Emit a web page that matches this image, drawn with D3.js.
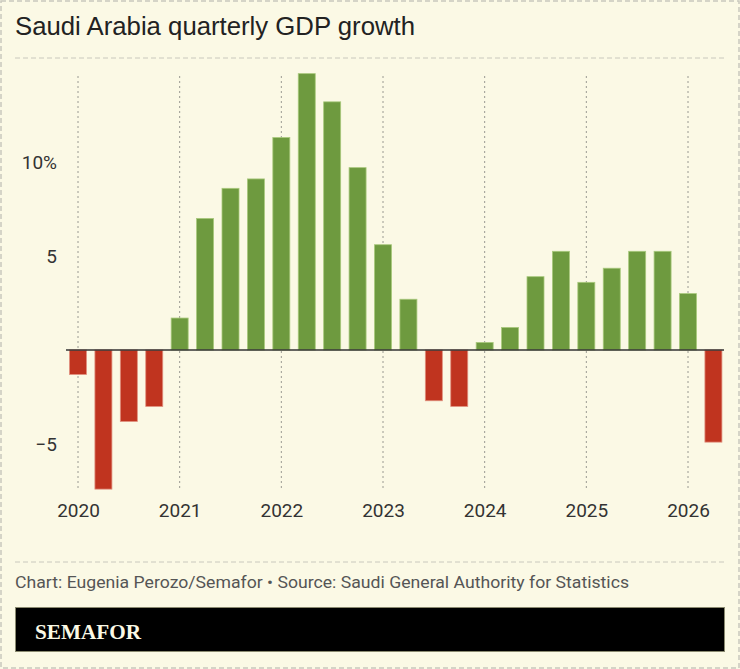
<!DOCTYPE html>
<html>
<head>
<meta charset="utf-8">
<script src="https://cdn.jsdelivr.net/npm/d3@7"></script>
<style>
  html, body { margin: 0; padding: 0; background: #fbf9e5; }
  svg { display: block; }
</style>
</head>
<body>
<script>
// quarterly GDP growth, % year on year, 2020 Q1 .. 2026 Q2
const quarters = d3.range(26).map(function(i) { return 2020 + i / 4; });
const growth = [-1.3, -7.4, -3.8, -3.0,
                 1.7, 7.0, 8.6, 9.1,
                 11.3, 14.7, 13.2, 9.7,
                 5.6, 2.7, -2.7, -3.0,
                 0.4, 1.2, 3.9, 5.25,
                 3.6, 4.35, 5.25, 5.25,
                 3.0, -4.9];
const yearTicks = [2020, 2021, 2022, 2023, 2024, 2025, 2026];
const yTicks = [10, 5, -5];

const data = quarters.map(function(q, i) { return {t: q, v: growth[i]}; });

const W = 740, H = 669;

var svg = d3.select("body").append("svg")
  .attr("width", W)
  .attr("height", H);

// outer dashed frame
svg.append("rect")
  .attr("x", 1).attr("y", 1)
  .attr("width", W - 2).attr("height", H - 2)
  .attr("fill", "#fbf9e5")
  .attr("stroke", "#c9c8bd")
  .attr("stroke-width", 1.5)
  .attr("stroke-dasharray", "5,3");

svg.append("text")
  .attr("x", 15).attr("y", 35)
  .attr("font-family", "Liberation Sans, Arial, sans-serif")
  .attr("font-size", 25)
  .attr("fill", "#222")
  .attr("textLength", 400)
  .attr("lengthAdjust", "spacingAndGlyphs")
  .text("Saudi Arabia quarterly GDP growth");

svg.append("line")
  .attr("x1", 15).attr("x2", 724)
  .attr("y1", 58).attr("y2", 58)
  .attr("stroke", "#c9c8bd")
  .attr("stroke-dasharray", "5,3");

var x = d3.scaleLinear()
  .domain([2020, 2026])
  .range([78, 688]);
var y = d3.scaleLinear()
  .domain([0, 10])
  .range([350, 162]);

// year grid
svg.selectAll(".yearline")
  .data(yearTicks)
  .enter()
  .append("line")
  .attr("class", "yearline")
  .attr("x1", function(d) { return x(d); })
  .attr("x2", function(d) { return x(d); })
  .attr("y1", 76).attr("y2", 490)
  .attr("stroke", "#9a9a92")
  .attr("stroke-dasharray", "2,3");

var xAxis = d3.axisBottom(x)
  .tickValues(yearTicks)
  .tickFormat(d3.format("d"))
  .tickSize(0)
  .tickPadding(0);

svg.append("g")
  .attr("class", "axis x")
  .attr("transform", "translate(0,502)")
  .call(xAxis)
  .call(function(g) { g.select(".domain").remove(); })
  .selectAll("text")
  .attr("dy", "0.8em")
  .attr("font-family", "Roboto, sans-serif")
  .attr("font-size", 19)
  .attr("fill", "#333");

var yAxis = d3.axisLeft(y)
  .tickValues(yTicks)
  .tickFormat(function(d) { return d === 10 ? "10%" : (d < 0 ? "\u2212" + Math.abs(d) : d); })
  .tickSize(0)
  .tickPadding(0);

svg.append("g")
  .attr("class", "axis y")
  .attr("transform", "translate(57,0)")
  .call(yAxis)
  .call(function(g) { g.select(".domain").remove(); })
  .selectAll("text")
  .attr("font-family", "Roboto, sans-serif")
  .attr("font-size", 19)
  .attr("fill", "#333");

var bw = 17;
svg.selectAll(".bar")
  .data(data)
  .enter()
  .append("rect")
  .attr("class", "bar")
  .attr("x", function(d) { return x(d.t) - bw / 2; })
  .attr("y", function(d) { return Math.min(y(d.v), y(0)); })
  .attr("width", bw)
  .attr("height", function(d) { return Math.abs(y(d.v) - y(0)); })
  .attr("fill", function(d) { return d.v >= 0 ? "#6e9a3f" : "#c0341f"; })
  .attr("stroke", function(d) { return d.v >= 0 ? "#a9c97c" : "#e0907e"; })
  .attr("stroke-width", 0.8);

// zero line
svg.append("line")
  .attr("x1", 66).attr("x2", 724)
  .attr("y1", y(0)).attr("y2", y(0))
  .attr("stroke", "#333")
  .attr("stroke-width", 1.5);

// footer
svg.append("line")
  .attr("x1", 15).attr("x2", 724)
  .attr("y1", 562).attr("y2", 562)
  .attr("stroke", "#c9c8bd")
  .attr("stroke-dasharray", "5,3");

svg.append("text")
  .attr("x", 15).attr("y", 588)
  .attr("font-family", "Roboto, sans-serif")
  .attr("font-size", 17)
  .attr("fill", "#555")
  .attr("textLength", 614)
  .attr("lengthAdjust", "spacingAndGlyphs")
  .text("Chart: Eugenia Perozo/Semafor \u2022 Source: Saudi General Authority for Statistics");

svg.append("rect")
  .attr("x", 15.5).attr("y", 607.5)
  .attr("width", 709).attr("height", 44)
  .attr("fill", "#000")
  .attr("stroke", "#8a8a70")
  .attr("stroke-width", 1);

svg.append("text")
  .attr("x", 35).attr("y", 638.5)
  .attr("font-family", "Liberation Serif, Times New Roman, serif")
  .attr("font-weight", "bold")
  .attr("font-size", 22)
  .attr("fill", "#fbf9e5")
  .attr("textLength", 106)
  .attr("lengthAdjust", "spacingAndGlyphs")
  .text("SEMAFOR");
</script>
</body>
</html>
